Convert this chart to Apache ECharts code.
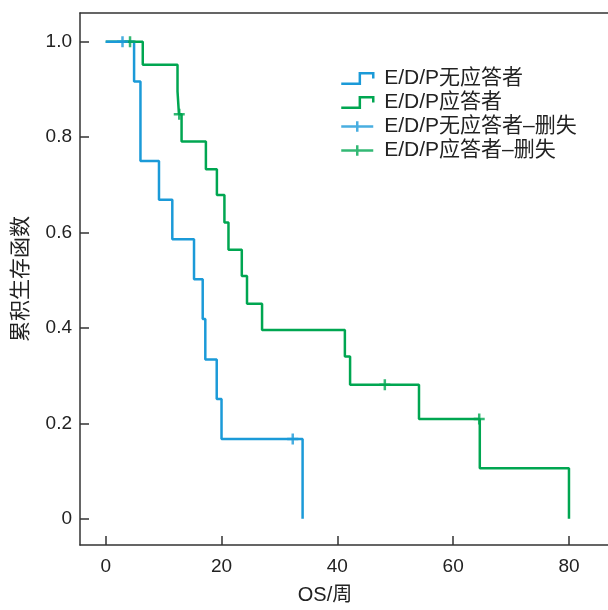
<!DOCTYPE html>
<html>
<head>
<meta charset="utf-8">
<script src="https://cdn.jsdelivr.net/npm/echarts@6/dist/echarts.min.js"></script>
<style>
html,body{margin:0;padding:0;background:#fff;}
#chart{width:608px;height:610px;}
</style>
</head>
<body>
<div id="chart"></div>
<script>
// Kaplan-Meier step data (time in weeks, survival)
var nonRespTimes = [0, 4.9, 6.0, 9.2, 11.5, 15.25, 16.75, 17.2, 19.17, 20.0, 34.0];
var nonRespSurv  = [1.0, 0.917, 0.75, 0.669, 0.586, 0.502, 0.419, 0.334, 0.251, 0.167, 0.0];
var respTimes = [0, 6.4, 12.4, 12.65, 13.1, 17.3, 19.2, 20.5, 21.2, 23.5, 24.4, 27.0, 41.3, 42.2, 54.1, 64.6, 80.0];
var respSurv  = [1.0, 0.952, 0.896, 0.848, 0.791, 0.733, 0.679, 0.621, 0.564, 0.509, 0.451, 0.396, 0.340, 0.281, 0.209, 0.106, 0.0];
// censored observations
var nonRespCensTimes = [2.9, 32.3];
var nonRespCensSurv  = [1.0, 0.167];
var respCensTimes = [4.2, 12.7, 48.2, 64.5];
var respCensSurv  = [1.0, 0.848, 0.281, 0.209];
// labels
var seriesNames = ['E/D/P无应答者', 'E/D/P应答者', 'E/D/P无应答者–删失', 'E/D/P应答者–删失'];
var xTicks = [0, 20, 40, 60, 80];
var yTicks = [0, 0.2, 0.4, 0.6, 0.8, 1.0];
var xName = 'OS/周';
var yName = '累积生存函数';

var BLUE = '#1b9ad8';
var GREEN = '#00a651';
var FONT = "'Liberation Sans', Arial, 'Noto Sans CJK SC', sans-serif";

function zip(a, b) { return a.map(function (v, i) { return [v, b[i]]; }); }

var stepIcon = 'path://M0,10L18,10L18,0L31,0L31,5';
var crossIcon = 'path://M0,5L30,5M15,0L15,10';
var censorSym = 'path://M0,5L10,5M5,0L5,10';

var chart = echarts.init(document.getElementById('chart'), null, {renderer: 'canvas'});
var xMin = -4.44, xMax = 86.74, yMin = -0.055, yMax = 1.0605;

chart.setOption({
  animation: false,
  backgroundColor: '#fff',
  textStyle: {fontFamily: FONT},
  grid: {left: 80, right: 0, top: 13, bottom: 62, containLabel: false},
  legend: {
    orient: 'vertical',
    left: 335,
    top: 63,
    itemWidth: 32,
    itemHeight: 11,
    itemGap: 3,
    selectedMode: false,
    textStyle: {fontSize: 21, color: '#222', fontFamily: FONT, padding: [0, 0, 0, 6]},
    data: [
      {name: seriesNames[0], icon: stepIcon, itemStyle: {color: 'transparent', borderColor: BLUE, borderWidth: 2.5}},
      {name: seriesNames[1], icon: stepIcon, itemStyle: {color: 'transparent', borderColor: GREEN, borderWidth: 2.5}},
      {name: seriesNames[2], icon: crossIcon, itemStyle: {color: 'transparent', borderColor: BLUE, borderWidth: 2.5}},
      {name: seriesNames[3], icon: crossIcon, itemStyle: {color: 'transparent', borderColor: GREEN, borderWidth: 2.5}}
    ]
  },
  xAxis: [{
    type: 'value',
    min: xMin, max: xMax,
    name: xName,
    nameLocation: 'middle',
    nameGap: 40,
    nameTextStyle: {fontSize: 20, color: '#222', fontFamily: FONT, padding: [0, 38, 0, 0]},
    axisLine: {show: true, onZero: false, lineStyle: {color: '#333', width: 1.5}},
    axisTick: {show: true, inside: true, length: 9, customValues: xTicks, lineStyle: {color: '#333', width: 1.5}},
    axisLabel: {customValues: xTicks, fontSize: 19, color: '#222', margin: 12, fontFamily: FONT},
    splitLine: {show: false}
  }, {
    type: 'value',
    position: 'top',
    min: xMin, max: xMax,
    axisLine: {show: true, onZero: false, lineStyle: {color: '#333', width: 1.5}},
    axisTick: {show: false},
    axisLabel: {show: false},
    splitLine: {show: false}
  }],
  yAxis: {
    type: 'value',
    min: yMin, max: yMax,
    name: yName,
    nameLocation: 'middle',
    nameGap: 48,
    nameRotate: 90,
    nameTextStyle: {fontSize: 21, color: '#222', fontFamily: FONT},
    axisLine: {show: true, onZero: false, lineStyle: {color: '#333', width: 1.5}},
    axisTick: {show: true, inside: true, length: 9, customValues: yTicks, lineStyle: {color: '#333', width: 1.5}},
    axisLabel: {
      customValues: yTicks, fontSize: 19, color: '#222', margin: 8, fontFamily: FONT,
      formatter: function (v) { return Math.abs(v) < 1e-9 ? '0' : v.toFixed(1); }
    },
    splitLine: {show: false}
  },
  series: [
    {
      name: seriesNames[0], type: 'line', step: 'end', z: 4,
      data: zip(nonRespTimes, nonRespSurv),
      showSymbol: false, symbol: 'none', silent: true,
      lineStyle: {color: BLUE, width: 2.5}, itemStyle: {color: BLUE}
    },
    {
      name: seriesNames[1], type: 'line', step: 'end', z: 3,
      data: zip(respTimes, respSurv),
      showSymbol: false, symbol: 'none', silent: true,
      lineStyle: {color: GREEN, width: 2.5}, itemStyle: {color: GREEN}
    },
    {
      name: seriesNames[2], type: 'scatter', z: 6, silent: true,
      symbol: censorSym, symbolSize: [11, 11],
      data: zip(nonRespCensTimes, nonRespCensSurv),
      itemStyle: {color: 'transparent', borderColor: BLUE, borderWidth: 2.5}
    },
    {
      name: seriesNames[3], type: 'scatter', z: 5, silent: true,
      symbol: censorSym, symbolSize: [11, 11],
      data: zip(respCensTimes, respCensSurv),
      itemStyle: {color: 'transparent', borderColor: GREEN, borderWidth: 2.5}
    }
  ]
});
</script>
</body>
</html>
